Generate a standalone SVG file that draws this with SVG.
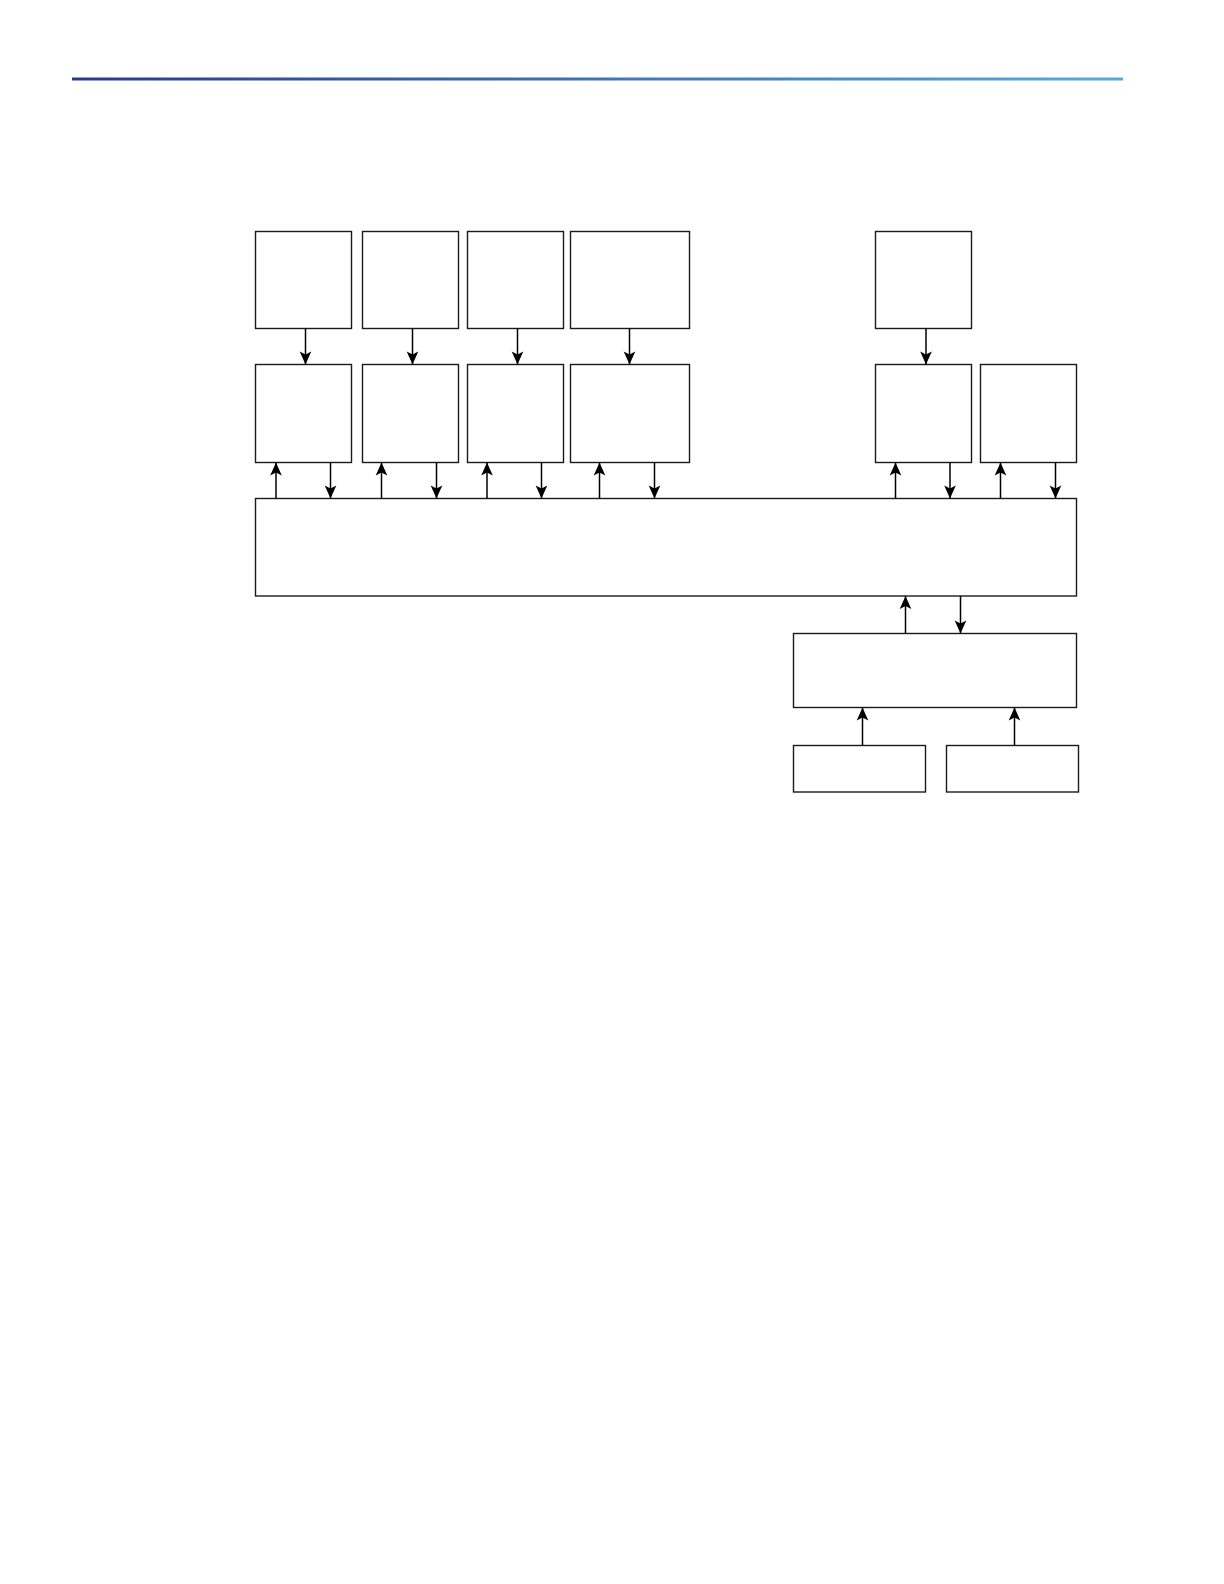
<svg xmlns="http://www.w3.org/2000/svg" width="1224" height="1584" viewBox="0 0 1224 1584">
<style>
.n{fill:#fff;stroke:#1a1a1a;stroke-width:1.4}
.c line{stroke:#000;stroke-width:1.5;marker-end:url(#ah)}
</style>
<defs>
<linearGradient id="hg" x1="0" x2="1" y1="0" y2="0">
<stop offset="0" stop-color="#2a3a8a"/>
<stop offset="0.5" stop-color="#3f74b3"/>
<stop offset="1" stop-color="#5aabdc"/>
</linearGradient>
<marker id="ah" markerWidth="15" markerHeight="13" refX="0" refY="0" orient="auto" markerUnits="userSpaceOnUse" viewBox="-14 -6.5 15 13">
<path d="M0,0 L-13,-5.8 L-10,0 L-13,5.8 Z" fill="#000"/>
</marker>
</defs>
<rect width="1224" height="1584" fill="#fff"/>
<rect x="72" y="77.5" width="1051" height="3" fill="url(#hg)"/>
<g id="t1"><rect class="n" x="255.5" y="231.5" width="96" height="97"/></g>
<g id="t2"><rect class="n" x="362.5" y="231.5" width="96" height="97"/></g>
<g id="t3"><rect class="n" x="467.5" y="231.5" width="96" height="97"/></g>
<g id="t4"><rect class="n" x="570.5" y="231.5" width="119" height="97"/></g>
<g id="t5"><rect class="n" x="875.5" y="231.5" width="96" height="97"/></g>
<g id="m1"><rect class="n" x="255.5" y="364.5" width="96" height="98"/></g>
<g id="m2"><rect class="n" x="362.5" y="364.5" width="96" height="98"/></g>
<g id="m3"><rect class="n" x="467.5" y="364.5" width="96" height="98"/></g>
<g id="m4"><rect class="n" x="570.5" y="364.5" width="119" height="98"/></g>
<g id="m5"><rect class="n" x="875.5" y="364.5" width="96" height="98"/></g>
<g id="m6"><rect class="n" x="980.5" y="364.5" width="96" height="98"/></g>
<g id="bus"><rect class="n" x="255.5" y="498.5" width="821" height="97.5"/></g>
<g id="ctl"><rect class="n" x="793.5" y="633.5" width="283" height="74"/></g>
<g id="b1"><rect class="n" x="793.5" y="745.5" width="132" height="46.5"/></g>
<g id="b2"><rect class="n" x="946.5" y="745.5" width="132" height="46.5"/></g>
<g class="c" id="connectors">
<line x1="305.5" y1="328.5" x2="305.5" y2="364.5"/>
<line x1="412.5" y1="328.5" x2="412.5" y2="364.5"/>
<line x1="517.5" y1="328.5" x2="517.5" y2="364.5"/>
<line x1="629.5" y1="328.5" x2="629.5" y2="364.5"/>
<line x1="926" y1="328.5" x2="926" y2="364.5"/>
<line x1="276" y1="498.5" x2="276" y2="462.5"/>
<line x1="330.5" y1="462.5" x2="330.5" y2="498.5"/>
<line x1="381.5" y1="498.5" x2="381.5" y2="462.5"/>
<line x1="436.5" y1="462.5" x2="436.5" y2="498.5"/>
<line x1="487" y1="498.5" x2="487" y2="462.5"/>
<line x1="541.5" y1="462.5" x2="541.5" y2="498.5"/>
<line x1="599.5" y1="498.5" x2="599.5" y2="462.5"/>
<line x1="654.5" y1="462.5" x2="654.5" y2="498.5"/>
<line x1="895.5" y1="498.5" x2="895.5" y2="462.5"/>
<line x1="950" y1="462.5" x2="950" y2="498.5"/>
<line x1="1000.5" y1="498.5" x2="1000.5" y2="462.5"/>
<line x1="1055.5" y1="462.5" x2="1055.5" y2="498.5"/>
<line x1="905.5" y1="633.5" x2="905.5" y2="596"/>
<line x1="960.5" y1="596" x2="960.5" y2="633.5"/>
<line x1="862.5" y1="745.5" x2="862.5" y2="707.5"/>
<line x1="1014.5" y1="745.5" x2="1014.5" y2="707.5"/>
</g>
</svg>
